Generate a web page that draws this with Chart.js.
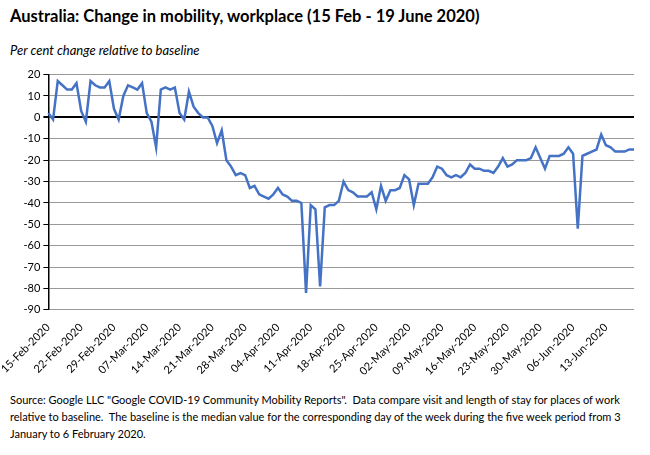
<!DOCTYPE html><html><head><meta charset="utf-8">
<script src="https://cdn.jsdelivr.net/npm/chart.js@4"></script>
<style>
body{margin:0;width:650px;height:455px;background:#fff;font-family:"Open Sans",Lato,sans-serif;position:relative;overflow:hidden}
#t{position:absolute;left:10px;top:6px;font-size:16.5px;font-weight:bold;color:#000;font-family:Lato,sans-serif}
#s{position:absolute;left:10px;top:42px;font-size:13px;font-style:italic;font-family:Lato,sans-serif}
#f{position:absolute;left:10px;top:391px;width:630px;font-size:11px;line-height:17px;font-family:Lato,sans-serif}
#c{position:absolute;left:0;top:65px;width:650px;height:316px}
</style></head><body>
<div id="t">Australia: Change in mobility, workplace (15 Feb - 19 June 2020)</div>
<div id="s">Per cent change relative to baseline</div>
<div id="c"><canvas id="cv"></canvas></div>
<div id="f">Source: Google LLC "Google COVID-19 Community Mobility Reports".&nbsp; Data compare visit and length of stay for places of work relative to baseline.&nbsp; The baseline is the median value for the corresponding day of the week during the five week period from 3 January to 6 February 2020.</div>
<script>
const startDate = [2020, 1, 15];
const values = [2,-1,17,15,13,13,16,3,-2,17,15,14,14,17,4,
-1,10,15,14,13,16,2,-2,-14,13,14,13,14,2,-1,
12,5,2,0,0,-4,-12,-6,-20,-23,-27,-26,-27,-33,-32,
-36,-37,-38,-36,-33,-36,-37,-39,-39,-40,-82,-41,-43,-79,-42,
-41,-41,-39,-30,-34,-35,-37,-37,-37,-35,-43,-32,-39,-34,-34,
-33,-27,-29,-41,-31,-31,-31,-28,-23,-24,-27,-28,-27,-28,-26,
-22,-24,-24,-25,-25,-26,-23,-19,-23,-22,-20,-20,-20,-19,-14,
-19,-24,-18,-18,-18,-17,-14,-17,-52,-18,-17,-16,-15,-8,-13,
-14,-16,-16,-16,-15,-15];
const months=["Jan","Feb","Mar","Apr","May","Jun"];
const labels = values.map((v,i)=>{const d=new Date(startDate[0],startDate[1],startDate[2]+i);return String(d.getDate()).padStart(2,'0')+"-"+months[d.getMonth()]+"-"+d.getFullYear();});
new Chart(document.getElementById('cv'),{type:'line',
data:{labels,datasets:[{data:values,borderColor:'#4472C4',borderWidth:2.5,pointRadius:0,tension:0}]},
options:{responsive:true,maintainAspectRatio:false,animation:false,
layout:{padding:{left:5,right:16,top:5,bottom:0}},
plugins:{legend:{display:false},tooltip:{enabled:false}},
scales:{
x:{grid:{display:false,drawTicks:true},border:{display:false},
ticks:{autoSkip:false,maxRotation:45,minRotation:45,color:'#000',font:{size:11,family:'Lato'},
callback:(v,i)=>i%7===0?labels[i]:null}},
y:{min:-90,max:20,ticks:{stepSize:10,color:'#000',font:{size:11,family:'Lato'}},
border:{color:'#000',width:1.5},
grid:{color:c=>c.tick.value===0?'#000':'#999',lineWidth:c=>c.tick.value===0?2:1,drawTicks:true,tickColor:'#000',tickLength:5}}
}}});
</script></body></html>
